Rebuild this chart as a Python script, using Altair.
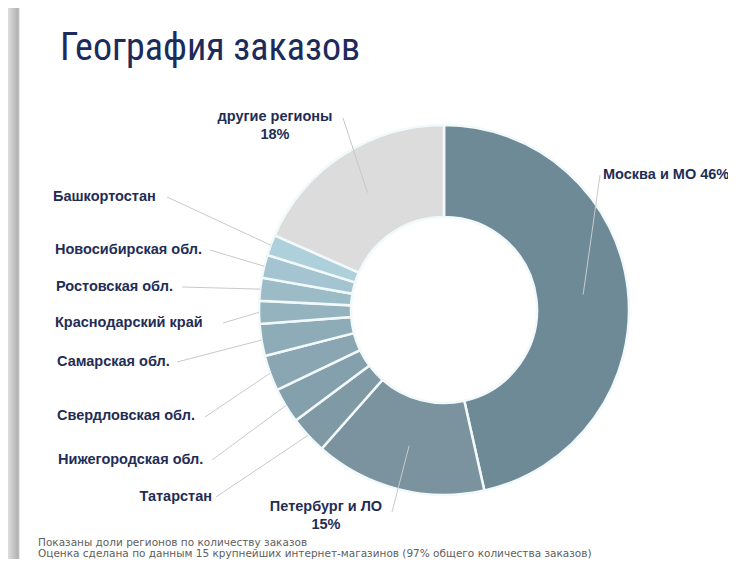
import altair as alt
import pandas as pd
import numpy as np

# ---------------- data ----------------
regions = ["Москва и МО", "Петербург и ЛО", "Татарстан", "Нижегородская обл.",
           "Свердловская обл.", "Самарская обл.", "Краснодарский край",
           "Ростовская обл.", "Новосибирская обл.", "Башкортостан", "другие регионы"]
shares = [46.5, 15.0, 3.3, 3.1, 3.1, 2.8, 2.0, 2.0, 2.0, 1.8, 18.4]
labels = ["Москва и МО 46%", "Петербург и ЛО\n15%", "Татарстан", "Нижегородская обл.",
          "Свердловская обл.", "Самарская обл.", "Краснодарский край",
          "Ростовская обл.", "Новосибирская обл.", "Башкортостан", "другие регионы\n18%"]
colors = ["#6f8a97", "#7a939f", "#7f99a5", "#84a0ac", "#89a6b2", "#8eacb8",
          "#94b3bf", "#9bbbc7", "#a3c4d0", "#aed0db", "#dcdcdc"]

title_text = ["География заказов"]
footer_lines = ["Показаны доли регионов по количеству  заказов",
                "Оценка сделана по данным 15 крупнейших интернет-магазинов  (97% общего количества  заказов)"]

# ---------------- layout (chart coordinates) ----------------
CX, CY = 436, 302
R_OUT, R_IN = 185, 93
label_x = [595, 318, 204, 50, 49, 49, 47, 48, 47, 45, 267]
label_y = [167, 492, 489, 452, 408, 354, 315, 279, 242, 189, 102]
label_align = ["left", "center", "right", "left", "left", "left", "left", "left", "left", "left", "center"]
label_base = ["middle", "top", "middle", "middle", "middle", "middle", "middle", "middle", "middle", "middle", "top"]
lead_x = [592, 384, 208, 204, 197, 169, 215, 174, 202, 159, 335]
lead_y = [167, 504, 489, 452, 409, 354, 315, 279, 242, 189, 110]
lead_r = [140, 140, 185, 185, 185, 185, 185, 185, 185, 185, 140]

df = pd.DataFrame({"region": regions, "share": shares, "label": labels,
                   "lx": label_x, "ly": label_y, "align": label_align, "base": label_base,
                   "sx": lead_x, "sy": lead_y, "lr": lead_r})
df["order"] = range(len(df))
s = np.array(shares)
start = np.cumsum(s) - s
mid = (start + s / 2) / s.sum() * 2 * np.pi
df["ex"] = CX + df["lr"] * np.sin(mid)
df["ey"] = CY - df["lr"] * np.cos(mid)

base = alt.Chart(df)

arc = base.mark_arc(radius=R_OUT, radius2=R_IN, stroke="#f2f9fb", strokeWidth=2.5).encode(
    theta=alt.Theta("share:Q", stack=True),
    order=alt.Order("order:Q"),
    color=alt.Color("region:N", scale=alt.Scale(domain=regions, range=colors), legend=None),
    x=alt.value(CX), y=alt.value(CY),
)

leaders = base.mark_rule(color="#c9c9c9", strokeWidth=1).encode(
    x=alt.X("sx:Q", scale=None), y=alt.Y("sy:Q", scale=None),
    x2="ex:Q", y2="ey:Q",
)

def label_layer(align, baseline):
    return base.transform_filter(
        (alt.datum.align == align) & (alt.datum.base == baseline)
    ).mark_text(
        align=align, baseline=baseline, font="Liberation Sans", fontSize=14.5,
        fontWeight="bold", color="#1f2d55", lineBreak="\n", lineHeight=18,
    ).encode(x=alt.X("lx:Q", scale=None), y=alt.Y("ly:Q", scale=None), text="label:N")

lab_left = label_layer("left", "middle")
lab_right = label_layer("right", "middle")
lab_center = label_layer("center", "top")

title = alt.Chart(pd.DataFrame({"t": title_text})).mark_text(
    align="left", baseline="alphabetic", font="Roboto Condensed, Liberation Sans Narrow, Arial Narrow",
    fontSize=38, color="#1c2b5c",
).encode(x=alt.value(52), y=alt.value(52), text="t:N")

foot = pd.DataFrame({"t": footer_lines, "i": [0, 1]})
footer = alt.Chart(foot).mark_text(
    align="left", baseline="middle", font="DejaVu Sans", fontSize=10.5, color="#606060",
).encode(x=alt.value(30), y=alt.Y("i:Q", scale=alt.Scale(domain=[0, 1], range=[535, 546]), axis=None),
         text="t:N")

shadow = alt.Chart(pd.DataFrame({"a": [0]})).mark_rect(
    color=alt.Gradient(gradient="linear", x1=0, x2=1, y1=0, y2=0,
                       stops=[alt.GradientStop(color="#dedede", offset=0),
                              alt.GradientStop(color="#b0b0b0", offset=0.85),
                              alt.GradientStop(color="#ffffff", offset=1)])
).encode(x=alt.value(0), x2=alt.value(12), y=alt.value(0), y2=alt.value(551))

chart = alt.layer(shadow, arc, leaders, lab_left, lab_right, lab_center, title, footer).properties(
    width=720, height=551, padding=0, autosize="none", background="white"
).configure_view(stroke=None)

chart.save("out.html", embed_options={"renderer": "svg", "actions": False})
